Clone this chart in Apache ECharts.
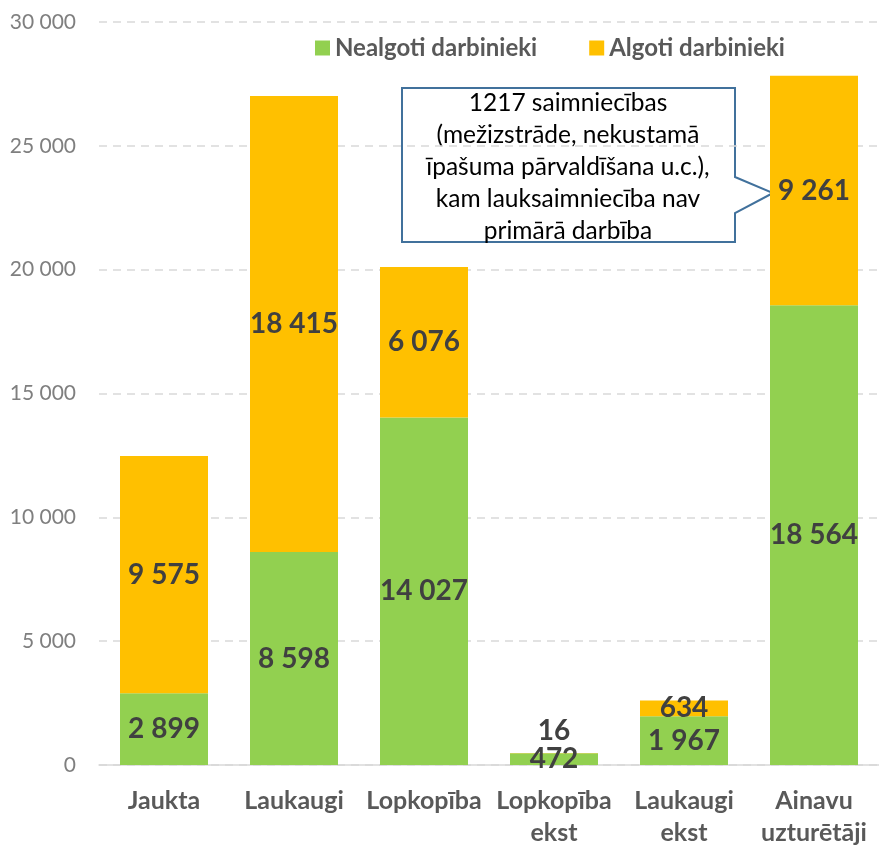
<!DOCTYPE html>
<html>
<head>
<meta charset="utf-8">
<script src="https://cdn.jsdelivr.net/npm/echarts@6/dist/echarts.min.js"></script>
<style>
  html, body { margin: 0; padding: 0; background: #fff; }
  #chart { width: 879px; height: 849px; }
</style>
</head>
<body>
<div id="chart"></div>
<script>
// categories and stacked values
const categories = ['Jaukta', 'Laukaugi', 'Lopkopība', 'Lopkopība\nekst', 'Laukaugi\nekst', 'Ainavu\nuzturētāji'];
const nealgoti = [2899, 8598, 14027, 472, 1967, 18564];
const algoti = [9575, 18415, 6076, 16, 634, 9261];
const seriesNames = ['Nealgoti darbinieki', 'Algoti darbinieki'];

const fmt = v => String(v).replace(/\B(?=(\d{3})+(?!\d))/g, ' ');
const font = 'Lato, "Noto Sans", sans-serif';

const labelStyle = {
  show: true,
  position: 'inside',
  fontFamily: font,
  fontWeight: 'bold',
  fontSize: 28,
  color: '#404040',
  formatter: p => fmt(p.value)
};

let chart = echarts.init(document.getElementById('chart'));
chart.setOption({
  animation: false,
  textStyle: { fontFamily: font },
  grid: { left: 99, right: 0, top: 22, bottom: 83 },
  legend: {
    left: 310,
    top: 31,
    itemWidth: 15,
    itemHeight: 15,
    itemGap: 52,
    icon: 'rect',
    textStyle: { fontFamily: font, fontWeight: 'bold', fontSize: 24, color: '#595959' },
    data: seriesNames
  },
  xAxis: {
    type: 'category',
    data: categories,
    axisTick: { show: false },
    axisLine: { lineStyle: { color: '#d9d9d9', width: 1.5 } },
    axisLabel: {
      fontFamily: font, fontWeight: 'bold', fontSize: 25, color: '#595959',
      margin: 20, lineHeight: 32, interval: 0
    }
  },
  yAxis: {
    type: 'value',
    min: 0,
    max: 30000,
    interval: 5000,
    axisLine: { show: false },
    axisTick: { show: false },
    splitLine: { lineStyle: { color: '#d9d9d9', type: [8, 6], width: 1.5 } },
    axisLabel: {
      fontFamily: font, fontSize: 21, color: '#7f7f7f', margin: 23,
      formatter: v => fmt(v)
    }
  },
  series: [
    {
      name: seriesNames[0],
      type: 'bar',
      stack: 'total',
      barWidth: 88,
      itemStyle: { color: '#92D050' },
      label: labelStyle,
      data: nealgoti
    },
    {
      name: seriesNames[1],
      type: 'bar',
      stack: 'total',
      barWidth: 88,
      itemStyle: { color: '#FFC000' },
      label: labelStyle,
      data: algoti.map((v, i) => i === 3
        ? { value: v, label: { position: 'top', distance: 8 } }
        : v)
    }
  ],
  graphic: [
    {
      type: 'polygon',
      shape: {
        points: [[402, 88], [735, 88], [735, 177], [773, 193], [735, 213], [735, 242], [402, 242]]
      },
      style: { fill: '#fff', stroke: '#41719C', lineWidth: 2 }
    },
    {
      type: 'text',
      x: 568,
      y: 87,
      style: {
        text: '1217 saimniecības\n(mežizstrāde, nekustamā\nīpašuma pārvaldīšana u.c.),\nkam lauksaimniecība nav\nprimārā darbība',
        fontFamily: font,
        fontSize: 24.5,
        lineHeight: 32,
        fill: '#000',
        align: 'center',
        verticalAlign: 'top'
      }
    }
  ]
});
</script>
</body>
</html>
